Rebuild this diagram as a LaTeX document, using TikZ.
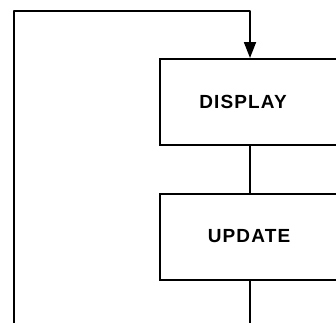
\documentclass[tikz,border=0pt]{standalone}
\usepackage{fontspec}
\setmainfont{Liberation Sans}[LetterSpace=6]
\usetikzlibrary{arrows.meta}
\begin{document}
\begin{tikzpicture}[x=1pt,y=1pt,
  box/.style={draw=black, line width=2pt, minimum width=180pt, minimum height=86pt, inner sep=0pt},
  lbl/.style={font=\fontsize{19}{22}\selectfont\bfseries, inner sep=0pt, text=black},
  link/.style={draw=black, line width=1.8pt},
  tip/.style={-{Triangle[length=16pt,width=12pt]}}]
\useasboundingbox (0,0) rectangle (336,-322);
\clip (0,0) rectangle (336,-322);
\node[box] (display) at (250,-102) {};
\node[lbl] (displaytext) at ([xshift=-7pt]display.center) {DISPLAY};
\node[box] (update) at (250,-236.5) {};
\node[lbl] (updatetext) at ([xshift=-1pt]update.center) {UPDATE};
\coordinate (loopbottom) at (14,-330);
\coordinate (loopcorner) at (14,-11);
\coordinate (outbottom) at (250,-330);
\draw[link] (display.south) -- (update.north);
\draw[link] (update.south) -- (outbottom);
\draw[link, tip, line join=round] (loopbottom) -- (loopcorner) -| (display.north);
\end{tikzpicture}
\end{document}
